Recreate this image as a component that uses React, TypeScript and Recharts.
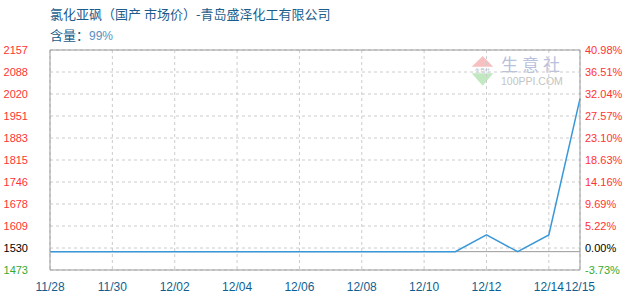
import React from "react";
import {
  LineChart,
  Line,
  XAxis,
  YAxis,
  CartesianGrid,
  ReferenceLine,
} from "recharts";

// Daily quotes, 11/28 → 12/15
const dates = [
  "11/28", "11/29", "11/30", "12/01", "12/02", "12/03", "12/04", "12/05", "12/06",
  "12/07", "12/08", "12/09", "12/10", "12/11", "12/12", "12/13", "12/14", "12/15",
];
const prices = [
  1530, 1530, 1530, 1530, 1530, 1530, 1530, 1530, 1530,
  1530, 1530, 1530, 1530, 1530, 1582, 1530, 1582, 2006,
];

const xTicks = ["11/28", "11/30", "12/02", "12/04", "12/06", "12/08", "12/10", "12/12", "12/14", "12/15"];

// price scale: evenly spaced grid between low and high
const yTicks = [2157, 2088.6, 2020.2, 1951.8, 1883.4, 1815, 1746.6, 1678.2, 1609.8, 1541.4, 1473];
const priceLabels = ["2157", "2088", "2020", "1951", "1883", "1815", "1746", "1678", "1609", "1530", "1473"];
const pctLabels = ["40.98%", "36.51%", "32.04%", "27.57%", "23.10%", "18.63%", "14.16%", "9.69%", "5.22%", "0.00%", "-3.73%"];
const basePrice = 1530;

const rows = dates.map((date, i) => ({ date, price: prices[i] }));

const AXIS_FONT = "'Liberation Sans', Arial, sans-serif";

function tickColor(i: number) {
  if (i === yTicks.length - 1) return "#33aa33";
  if (i === yTicks.length - 2) return "#000000";
  return "#ff3333";
}

function YTick({ x = 0, y = 0, payload, labels, anchor }: any) {
  const i = yTicks.indexOf(payload?.value);
  if (i < 0) return null;
  return (
    <text
      x={x}
      y={y}
      dy={4}
      textAnchor={anchor}
      fill={tickColor(i)}
      style={{ fontSize: 11, fontFamily: AXIS_FONT }}
    >
      {labels[i]}
    </text>
  );
}

function XTick({ x = 0, y = 0, payload }: any) {
  return (
    <text
      x={x}
      y={y}
      dy={11}
      textAnchor="middle"
      fill="#0e5f8f"
      style={{ fontSize: 12, fontFamily: AXIS_FONT }}
    >
      {payload?.value}
    </text>
  );
}

// faint 生意社 watermark in the upper right of the plot
function Watermark() {
  return (
    <svg
      width={630}
      height={300}
      style={{ position: "absolute", left: 0, top: 0, pointerEvents: "none" }}
    >
      <polygon points="482.7,56 471.7,66.7 493.3,66.7" fill="#f6c0c0" />
      <polygon points="471.7,73.3 493.3,73.3 482.7,85.7" fill="#c2e8c2" />
      <text x={482.5} y={72} textAnchor="middle" fill="#a8b0c8" style={{ fontSize: 5, fontFamily: AXIS_FONT }}>
        生意社
      </text>
      <text
        x={501}
        y={71}
        fill="#b8c0dc"
        style={{ fontSize: 17, fontFamily: "'Noto Sans CJK SC', sans-serif", letterSpacing: 4 }}
      >
        生意社
      </text>
      <text x={501} y={84.5} fill="#c4c4c4" style={{ fontSize: 10.5, fontFamily: AXIS_FONT }}>
        100PPI.COM
      </text>
    </svg>
  );
}

export default function App() {
  return (
    <div
      style={{
        position: "absolute",
        left: 0,
        top: 0,
        width: 630,
        height: 300,
        background: "#fff",
      }}
    >
      <div
        style={{
          position: "absolute",
          left: 50,
          top: 5,
          fontSize: 13,
          lineHeight: "18px",
          color: "#1a5c8c",
          fontFamily: "'Noto Sans CJK SC', sans-serif",
          whiteSpace: "nowrap",
        }}
      >
        氯化亚砜（国产 市场价）-青岛盛泽化工有限公司
      </div>
      <div
        style={{
          position: "absolute",
          left: 50,
          top: 26,
          fontSize: 13,
          lineHeight: "18px",
          color: "#1a5c8c",
          fontFamily: "'Noto Sans CJK SC', sans-serif",
          whiteSpace: "nowrap",
        }}
      >
        含量：<span style={{ color: "#5a8fc0", fontFamily: AXIS_FONT, fontSize: 12 }}>99%</span>
      </div>
      <Watermark />
      <div style={{ position: "absolute", left: 0, top: 0 }}>
        <LineChart
          width={630}
          height={300}
          data={rows}
          margin={{ top: 50, right: 0, bottom: 0, left: 0 }}
        >
          <CartesianGrid yAxisId="left" stroke="#cccccc" strokeDasharray="3 3" />
          <XAxis
            dataKey="date"
            ticks={xTicks}
            interval={0}
            tickLine={false}
            tickSize={0}
            tickMargin={10}
            height={30}
            padding={{ left: 0, right: 0 }}
            axisLine={{ stroke: "#999999" }}
            tick={<XTick />}
          />
          <YAxis
            yAxisId="left"
            orientation="left"
            width={50}
            domain={[1473, 2157]}
            ticks={yTicks}
            interval={0}
            tickLine={false}
            tickSize={0}
            tickMargin={22}
            axisLine={{ stroke: "#999999" }}
            tick={<YTick labels={priceLabels} anchor="end" />}
          />
          <YAxis
            yAxisId="right"
            orientation="right"
            width={50}
            domain={[1473, 2157]}
            ticks={yTicks}
            interval={0}
            tickLine={false}
            tickSize={0}
            tickMargin={5}
            axisLine={{ stroke: "#999999" }}
            tick={<YTick labels={pctLabels} anchor="start" />}
          />
          <ReferenceLine yAxisId="left" y={2157} stroke="#999999" />
          <ReferenceLine yAxisId="left" y={basePrice} stroke="#999999" />
          <Line
            yAxisId="right"
            dataKey="price"
            stroke="none"
            dot={false}
            activeDot={false}
            isAnimationActive={false}
          />
          <Line
            yAxisId="left"
            dataKey="price"
            stroke="#3a98d8"
            strokeWidth={1.5}
            dot={false}
            activeDot={false}
            isAnimationActive={false}
          />
        </LineChart>
      </div>
    </div>
  );
}
